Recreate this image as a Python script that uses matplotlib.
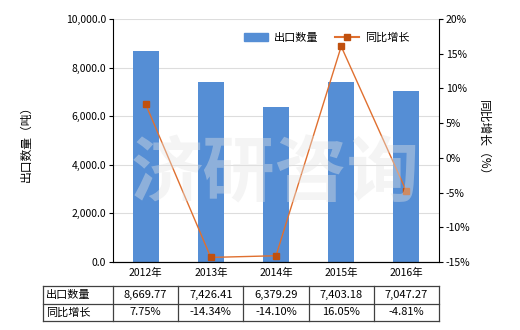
import matplotlib
matplotlib.use("Agg")
import matplotlib.pyplot as plt
import matplotlib.transforms as mtransforms
from matplotlib.lines import Line2D
from matplotlib.patches import Patch

plt.rcParams['font.family'] = ['Noto Sans CJK SC', 'DejaVu Sans']

years = ["2012年", "2013年", "2014年", "2015年", "2016年"]
export_qty = [8669.77, 7426.41, 6379.29, 7403.18, 7047.27]
yoy_growth = [7.75, -14.34, -14.10, 16.05, -4.81]
qty_labels = ["8,669.77", "7,426.41", "6,379.29", "7,403.18", "7,047.27"]
yoy_labels = ["7.75%", "-14.34%", "-14.10%", "16.05%", "-4.81%"]
series_names = ["出口数量", "同比增长"]
left_ticks = [0, 2000, 4000, 6000, 8000, 10000]
right_ticks = [-15, -10, -5, 0, 5, 10, 15, 20]

bar_color = "#558ed5"
line_color = "#e07030"
marker_color = "#c0500e"
fs = 7.5

fig = plt.figure(figsize=(5.2, 3.3), dpi=100)
ax = fig.add_axes([113/520, 1-262/330, (439-113)/520, (262-19)/330])
x = list(range(len(years)))
ax.bar(x, export_qty, width=0.4, color=bar_color, zorder=2)
ax.set_xlim(-0.5, len(years)-0.5)
ax.set_ylim(0, 10000)
ax.set_yticks(left_ticks)
ax.set_yticklabels([f"{v:,.1f}" for v in left_ticks], fontsize=fs)
ax.set_xticks(x)
ax.set_xticklabels(years, fontsize=fs)
ax.grid(axis='y', color='#dddddd', linewidth=0.8, zorder=0)
ax.spines['top'].set_visible(False)
ax.spines['right'].set_visible(False)
ax.tick_params(axis='both', length=3, width=0.8, pad=2)
ax.tick_params(axis='x', length=0, pad=4)
ax.set_ylabel("出口数量（吨）", fontsize=fs+1, labelpad=24)

ax2 = ax.twinx()
ax2.plot(x, yoy_growth, color=line_color, linewidth=1.0, marker='s', markersize=4,
         markerfacecolor=marker_color, markeredgecolor=marker_color, zorder=3)
ax2.set_ylim(-15, 20)
ax2.set_yticks(right_ticks)
ax2.set_yticklabels([f"{v}%" for v in right_ticks], fontsize=fs)
ax2.spines['top'].set_visible(False)
ax2.spines['left'].set_visible(False)
ax2.tick_params(axis='y', length=3, width=0.8, pad=2)
ax2.set_ylabel("同比增长（%）", fontsize=fs+1, rotation=-90, labelpad=14)

# watermark
fig.text(0.53, 0.47, "济研咨询", fontsize=52, color='#e4e4e4', alpha=0.4,
         ha='center', va='center', fontweight='bold', zorder=10)

handles = [Patch(color=bar_color),
           Line2D([0], [0], color=line_color, linewidth=1.5, marker='s', markersize=4,
                  markerfacecolor=marker_color, markeredgecolor=marker_color)]
ax2.legend(handles, series_names, loc='upper right', bbox_to_anchor=(0.94, 0.985),
           ncol=2, frameon=False, fontsize=fs+0.5, handlelength=2.2, columnspacing=1.5,
           handletextpad=0.5)

# table
trans = mtransforms.blended_transform_factory(ax.transData, fig.transFigure)
def fy(py):
    return 1 - py/330
x0 = -0.5 - (113-43)/((439-113)/5)
col_edges = [x0] + [i - 0.5 for i in range(len(years)+1)]
row_edges = [fy(286), fy(303.5), fy(321)]
lc = '#404040'
for ye in row_edges:
    ax.add_line(Line2D([col_edges[0], col_edges[-1]], [ye, ye], transform=trans,
                       color=lc, linewidth=0.9, clip_on=False))
for xe in col_edges:
    ax.add_line(Line2D([xe, xe], [row_edges[0], row_edges[-1]], transform=trans,
                       color=lc, linewidth=0.9, clip_on=False))
rows = [qty_labels, yoy_labels]
for r, (name, vals) in enumerate(zip(series_names, rows)):
    yc = (row_edges[r] + row_edges[r+1]) / 2
    ax.text(x0 + 0.04, yc, name, transform=trans, ha='left', va='center', fontsize=fs+0.5)
    for i, v in enumerate(vals):
        ax.text(i, yc, v, transform=trans, ha='center', va='center', fontsize=fs+0.5)

fig.savefig("out.png", dpi=100)
